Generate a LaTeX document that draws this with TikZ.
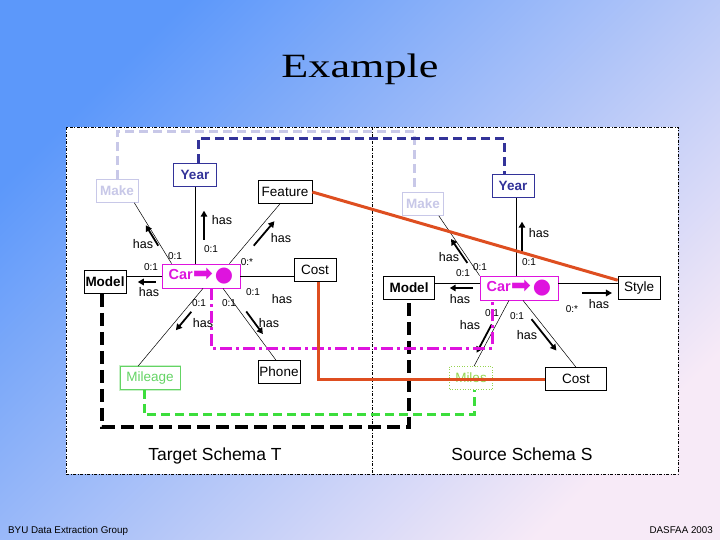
\documentclass[tikz,border=0pt]{standalone}
\usepackage{fontspec}
\setmainfont{Liberation Sans}
\newfontfamily\titlefont{Liberation Serif}
\newfontfamily\symfont{DejaVu Sans}
\usepackage{xcolor}
\usepackage{tikz}
\usetikzlibrary{positioning,arrows.meta,calc,decorations.markings}
\definecolor{slideblue}{RGB}{92, 152, 250}
\definecolor{slidepink}{RGB}{247, 234, 247}
\definecolor{yearblue}{RGB}{51, 51, 153}
\definecolor{makelav}{RGB}{200, 200, 232}
\definecolor{carmagenta}{RGB}{222, 20, 222}
\definecolor{linkorange}{RGB}{222, 78, 32}
\definecolor{linkgreen}{RGB}{60, 222, 60}
\definecolor{mileagegreen}{RGB}{100, 212, 100}
\definecolor{milesgreen}{RGB}{150, 212, 80}

\begin{document}
\begin{tikzpicture}[
    x=1pt, y=-1pt,
    panel/.style={
        rectangle, draw=black, fill=white, line width=0.6pt,
        dash pattern=on 3pt off 1.5pt on 1pt off 1.5pt,
        minimum width=306pt, minimum height=347pt, inner sep=0pt
    },
    entity/.style={
        rectangle, draw=black, line width=0.6pt, fill=white,
        minimum width=#1, minimum height=23pt, inner sep=1.5pt,
        font=\fontsize{13.5}{15}\selectfont
    },
    entity/.default=42pt,
    entitybold/.style={entity=#1, font=\fontsize{13.5}{15}\selectfont\bfseries},
    carbox/.style={
        rectangle, draw=carmagenta, line width=0.8pt, fill=white,
        minimum width=78pt, minimum height=24pt, inner sep=2pt,
        text=carmagenta, font=\fontsize{14.5}{15}\selectfont\bfseries
    },
    edge/.style={draw=black, line width=0.5pt},
    hasarrow/.style={draw=black, line width=1.8pt, -{Triangle[length=6pt, width=6.5pt]}},
    hasmark/.style n args={3}{postaction={decorate, decoration={markings,
        mark=at position #1 with {\draw[hasarrow] (-#3,#2) -- (#3,#2);}}}},
    haslbl/.style={font=\fontsize{12.5}{13}\selectfont, inner sep=0pt},
    cardlbl/.style={font=\fontsize{10}{11}\selectfont, inner sep=0pt},
    schemalbl/.style={font=\fontsize{17.5}{19}\selectfont, inner sep=0pt, anchor=base},
    footlbl/.style={font=\fontsize{9.8}{11}\selectfont, inner sep=0pt},
    makelink/.style={draw=makelav, line width=3pt, dash pattern=on 9pt off 5pt},
    yearlink/.style={draw=yearblue, line width=3pt, dash pattern=on 9pt off 5pt},
    orangelink/.style={draw=linkorange, line width=3pt},
    carlink/.style={draw=carmagenta, line width=3pt, dash pattern=on 12pt off 4pt on 3pt off 4pt},
    mileslink/.style={draw=linkgreen, line width=3pt, dash pattern=on 9pt off 5pt},
    modellink/.style={draw=black, line width=3.5pt, dash pattern=on 13pt off 6pt}
]
    % slide background
    \useasboundingbox (0,0) rectangle (720,540);
    \shade[top color=slideblue, bottom color=slidepink, shading angle=45] (0,0) rectangle (720,540);
    \node[font=\titlefont\fontsize{34}{40}\selectfont, anchor=base] (title) at (360,78) {\scalebox{1.3}[1]{Example}};

    \node[panel] (panelT) at (219,300.5) {};
    \node[panel] (panelS) at (525,300.5) {};

    % target schema T
    \node[entitybold=42pt, draw=makelav, text=makelav] (makeT) at (117,191) {Make};
    \node[entitybold=43pt, draw=yearblue, text=yearblue] (yearT) at (195,175) {Year};
    \node[entity=54pt] (featT) at (285,192) {Feature};
    \node[entitybold=42pt] (modelT) at (105,282) {Model};
    \node[carbox] (carT) at (201,276) {Car{\symfont\mdseries\fontsize{24}{15}\selectfont\raisebox{-2.5pt}{➡}}\hspace{2pt}{\symfont\mdseries\fontsize{21}{15}\selectfont\raisebox{-2pt}{●}}};
    \node[entity=42pt] (costT) at (315,270) {Cost};
    \node[entity=60pt, draw=mileagegreen, text=mileagegreen,
          preaction={draw=mileagegreen!35, line width=2.5pt}] (mileT) at (150,378) {Mileage};
    \node[entity=41pt] (phoneT) at (279,372) {Phone};
    \node[schemalbl] (nameT) at (215,460) {Target Schema T};

    \draw[edge, hasmark={0.48}{2pt}{12pt}] ([xshift=10]carT.north west) -- ([xshift=-4]makeT.south east);
    \draw[edge, hasmark={0.5}{-9pt}{14.5pt}] (carT.north -| yearT.south) -- (yearT.south);
    \draw[edge, hasmark={0.58}{-7pt}{16pt}] ([xshift=-11]carT.north east) -- ([xshift=-5]featT.south);
    \draw[edge, hasmark={0.42}{6pt}{9pt}] (carT.west) -- (carT.west -| modelT.east);
    \draw[edge] (carT.east) -- (carT.east -| costT.west);
    \draw[edge, hasmark={0.37}{6pt}{12pt}] ([xshift=2]carT.south) -- ([xshift=-12]mileT.north);
    \draw[edge, hasmark={0.52}{5pt}{14pt}] ([xshift=22]carT.south) -- ([xshift=-3]phoneT.north);

    \node[haslbl] (hMakeT) at (143,244) {has};
    \node[cardlbl] (cMakeT) at (175,256) {0:1};
    \node[haslbl] (hYearT) at (222,220) {has};
    \node[cardlbl] (cYearT) at (211,249) {0:1};
    \node[haslbl] (hFeatT) at (281,238) {has};
    \node[cardlbl] (cFeatT) at (247,262) {0:*};
    \node[cardlbl] (cModelT) at (151,267) {0:1};
    \node[haslbl] (hModelT) at (149,292) {has};
    \node[cardlbl] (cCostT) at (253,292) {0:1};
    \node[haslbl] (hCostT) at (282,299) {has};
    \node[cardlbl] (cMileT) at (199,303) {0:1};
    \node[haslbl] (hMileT) at (203,323) {has};
    \node[cardlbl] (cPhoneT) at (229,303) {0:1};
    \node[haslbl] (hPhoneT) at (269,323) {has};

    % source schema S
    \node[entitybold=41pt, draw=makelav, text=makelav] (makeS) at (423,204) {Make};
    \node[entitybold=42pt, draw=yearblue, text=yearblue] (yearS) at (513,186) {Year};
    \node[entitybold=51pt] (modelS) at (409,288) {Model};
    \node[carbox] (carS) at (519,288) {Car{\symfont\mdseries\fontsize{24}{15}\selectfont\raisebox{-2.5pt}{➡}}\hspace{2pt}{\symfont\mdseries\fontsize{21}{15}\selectfont\raisebox{-2pt}{●}}};
    \node[entity=42pt] (styleS) at (639,288) {Style};
    \node[entity=43pt, draw=milesgreen, dotted, text=milesgreen] (milesS) at (471,378) {Miles};
    \node[entity=61pt] (costS) at (576,379) {Cost};
    \node[schemalbl] (nameS) at (522,460) {Source Schema S};

    \draw[edge, hasmark={0.44}{3pt}{14.5pt}] (carS.north west) -- ([xshift=-5]makeS.south east);
    \draw[edge, hasmark={0.5}{-6pt}{15pt}] ($(carS.north)+(-3,0)$) -- ($(carS.north |- yearS.south)+(-3,0)$);
    \draw[edge, hasmark={0.41}{5pt}{11.5pt}] ([yshift=5]carS.west) -- ([yshift=5]modelS.east);
    \draw[edge, hasmark={0.65}{-10pt}{15pt}] ([yshift=5]carS.east) -- ([yshift=5]styleS.west);
    \draw[edge, hasmark={0.61}{-4pt}{16pt}] ([xshift=-10]carS.south) -- ([xshift=3]milesS.north);
    \draw[edge, hasmark={0.47}{-5pt}{20pt}] ([xshift=4]carS.south) -- (costS.north);

    \node[haslbl] (hMakeS) at (449,257) {has};
    \node[cardlbl] (cMakeS) at (480,267) {0:1};
    \node[haslbl] (hYearS) at (539,233) {has};
    \node[cardlbl] (cYearS) at (529,262) {0:1};
    \node[cardlbl] (cModelS) at (463,273) {0:1};
    \node[haslbl] (hModelS) at (460,299) {has};
    \node[haslbl] (hStyleS) at (599,304) {has};
    \node[cardlbl] (cStyleS) at (572,309) {0:*};
    \node[cardlbl] (cMilesS) at (492,313) {0:1};
    \node[haslbl] (hMilesS) at (470,325) {has};
    \node[cardlbl] (cCostS) at (517,316) {0:1};
    \node[haslbl] (hCostS) at (527,335) {has};

    % mappings between the two schemas
    \draw[makelink] (makeT.north) -- ++(0,-48) -| ([xshift=-9]makeS.north);
    \draw[yearlink] ([xshift=3]yearT.north) -- ++(0,-25) -| ([xshift=-9]yearS.north);
    \draw[modellink] ([xshift=-3]modelT.south) -- ++(0,133) -| (modelS.south);
    \draw[mileslink] ([xshift=-6]mileT.south) -- ++(0,25) -| ([xshift=3]milesS.south);
    \draw[carlink] ([xshift=10]carT.south) -- ++(0,60) -| ([xshift=-27]carS.south);
    \draw[orangelink] (featT.east) -- ([yshift=-4]styleS.north west);
    \draw[orangelink] ([xshift=3]costT.south) |- (costS.west);

    \node[footlbl, anchor=base west] (footL) at (8,533) {BYU Data Extraction Group};
    \node[footlbl, anchor=base east] (footR) at (713,533) {DASFAA 2003};
\end{tikzpicture}
\end{document}
